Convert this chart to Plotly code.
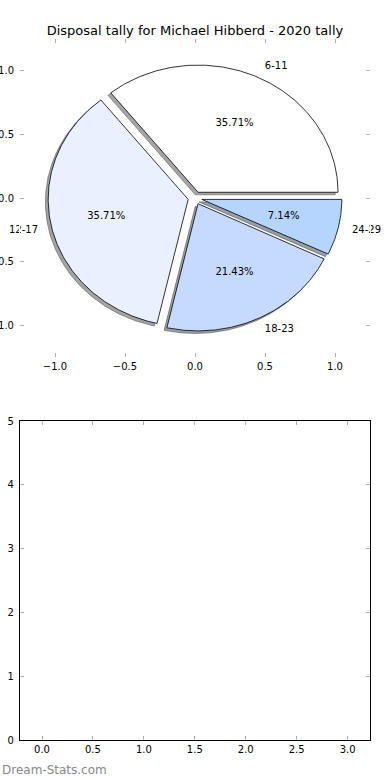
import numpy as np
import plotly.graph_objects as go

# ---- data ----
labels = ["6-11", "12-17", "18-23", "24-29"]
values = [5, 5, 3, 1]
colors = ["#ffffff", "#eaf1fe", "#c6d9ff", "#b5d5ff"]
title = "Disposal tally for Michael Hibberd - 2020 tally"
explode = [0.05, 0.05, 0.05, 0.05]

FONT = "DejaVu Sans"
fig = go.Figure()

total = float(sum(values))
fracs = [v / total for v in values]

def hex_rgb(h):
    h = h.lstrip("#")
    return tuple(int(h[i:i + 2], 16) for i in (0, 2, 4))

# compute wedges (matplotlib-style: start at 0 deg, counter-clockwise)
wedges = []
theta1 = 0.0
for lab, f, ex, col in zip(labels, fracs, explode, colors):
    theta2 = theta1 + 360.0 * f
    thetam = np.deg2rad((theta1 + theta2) / 2.0)
    cx, cy = ex * np.cos(thetam), ex * np.sin(thetam)
    ang = np.deg2rad(np.linspace(theta1, theta2, 200))
    xs = np.concatenate([[cx], cx + np.cos(ang), [cx]])
    ys = np.concatenate([[cy], cy + np.sin(ang), [cy]])
    wedges.append((lab, f, cx, cy, thetam, xs, ys, col))
    theta1 = theta2

# shadows first (below all wedges)
for lab, f, cx, cy, thetam, xs, ys, col in wedges:
    r, g, b = hex_rgb(col)
    sc = f"rgba({int(0.3*r)},{int(0.3*g)},{int(0.3*b)},0.5)"
    fig.add_trace(go.Scatter(x=xs - 0.02, y=ys - 0.02, mode="lines", fill="toself",
                             fillcolor=sc, line=dict(color=sc, width=1),
                             hoverinfo="skip", showlegend=False, xaxis="x", yaxis="y"))

for lab, f, cx, cy, thetam, xs, ys, col in wedges:
    fig.add_trace(go.Scatter(x=xs, y=ys, mode="lines", fill="toself",
                             fillcolor=col, line=dict(color="black", width=0.8),
                             hoverinfo="skip", showlegend=False, xaxis="x", yaxis="y"))

# labels and percentages
for lab, f, cx, cy, thetam, xs, ys, col in wedges:
    xt = cx + 1.1 * np.cos(thetam)
    yt = cy + 1.1 * np.sin(thetam)
    pos = "middle right" if xt > 0 else "middle left"
    fig.add_trace(go.Scatter(x=[xt], y=[yt], mode="text", text=[lab], textposition=pos,
                             textfont=dict(family=FONT, size=10, color="black"),
                             cliponaxis=False,
                             hoverinfo="skip", showlegend=False, xaxis="x", yaxis="y"))
    xp = cx + 0.6 * np.cos(thetam)
    yp = cy + 0.6 * np.sin(thetam)
    fig.add_trace(go.Scatter(x=[xp], y=[yp], mode="text", text=[f"{100*f:.2f}%"],
                             textposition="middle center", cliponaxis=False,
                             textfont=dict(family=FONT, size=10, color="black"),
                             hoverinfo="skip", showlegend=False, xaxis="x", yaxis="y"))

# empty second axes
fig.add_trace(go.Scatter(x=[], y=[], xaxis="x2", yaxis="y2", showlegend=False))

tickfont = dict(family=FONT, size=10, color="black")
common = dict(showgrid=False, zeroline=False, ticks="inside", ticklen=4,
              tickcolor="#b0b0b0", tickwidth=1, tickfont=tickfont, automargin=False)

fig.update_layout(
    width=390, height=780,
    margin=dict(l=20, r=20, t=39, b=40, autoexpand=False),
    paper_bgcolor="white", plot_bgcolor="white",
    title=dict(text=title, x=0.5, xanchor="center", xref="paper",
               y=(780 - 30) / 780, yref="container", yanchor="middle",
               font=dict(family=FONT, size=13, color="black")),
    xaxis=dict(domain=[0, 1], range=[-1.25, 1.25], dtick=0.5, tickformat=".1f",
               anchor="y", showline=True, linecolor="white", linewidth=0,
               mirror="ticks", **common),
    yaxis=dict(domain=[383 / 701, 1], range=[-1.25, 1.25], dtick=0.5, tickformat=".1f",
               anchor="x", showline=True, linecolor="white", linewidth=0,
               mirror="ticks", ticklabelstandoff=3, **common),
    xaxis2=dict(domain=[0, 1], range=[-0.216, 3.22], dtick=0.5, tickformat=".1f",
                anchor="y2", showline=True, linecolor="black", linewidth=1.2,
                mirror="ticks", **common),
    yaxis2=dict(domain=[0, 319 / 701], range=[0, 5], dtick=1,
                anchor="x2", showline=True, linecolor="black", linewidth=1.2,
                mirror="ticks", ticklabelstandoff=3, **common),
)
fig.add_annotation(text="Dream-Stats.com", xref="paper", yref="paper",
                   x=-20 / 350, y=-30 / 701, xanchor="left", yanchor="middle",
                   showarrow=False,
                   font=dict(family=FONT, size=12, color="#888888"))

fig.write_html("out.html", config={"displayModeBar": False},
               post_script="document.body.style.margin='0';document.body.style.padding='0';")
